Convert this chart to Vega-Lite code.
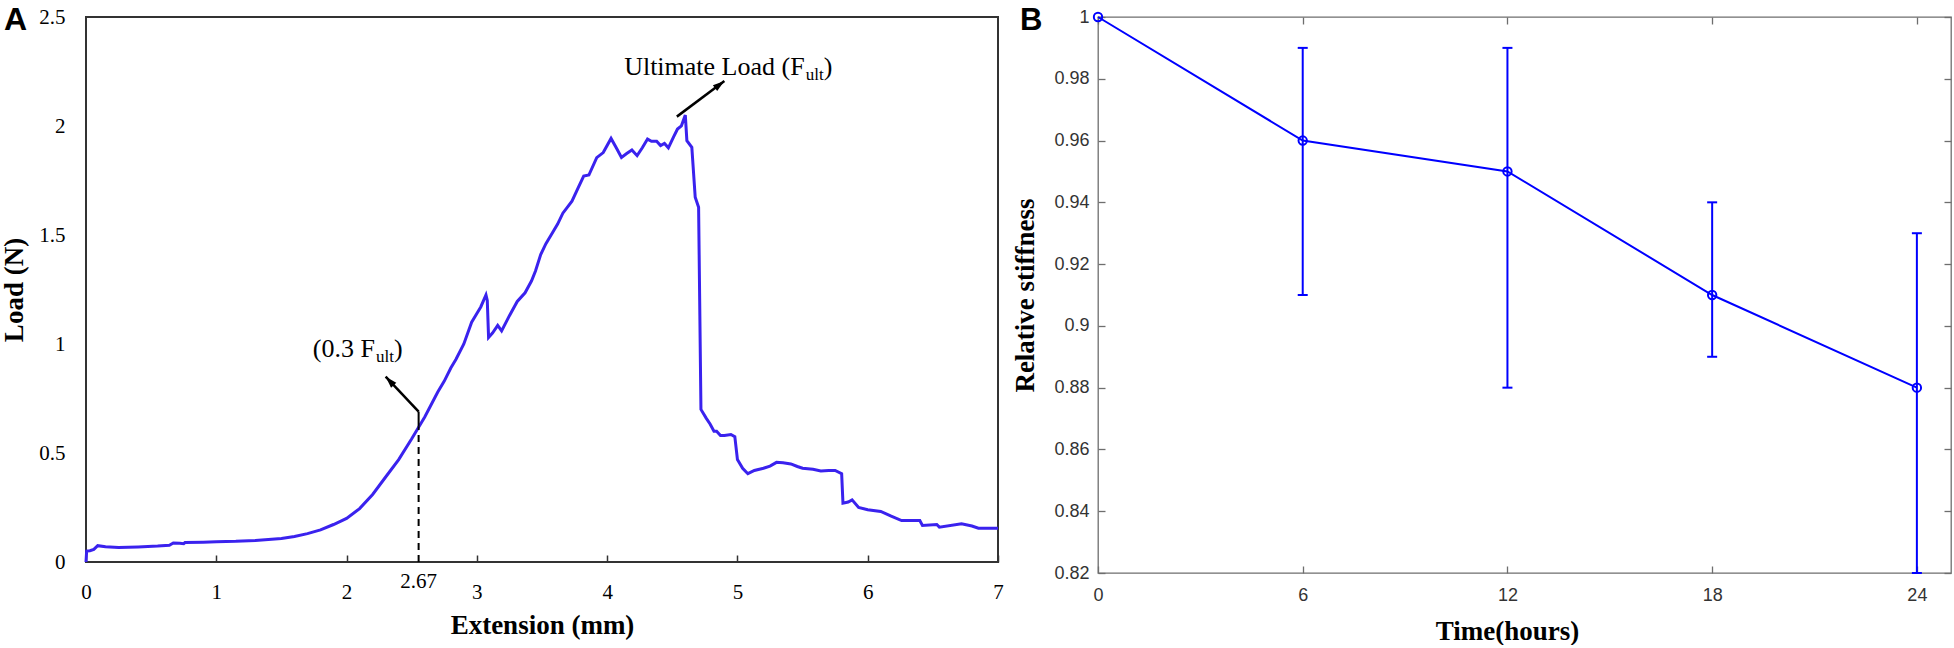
{
  "$schema": "https://vega.github.io/schema/vega-lite/v6.json",
  "background": "white",
  "padding": {"left": -1, "top": 3, "right": 0, "bottom": 0},
  "autosize": {"type": "pad"},
  "datasets": {
    "load": [
      {"ext": 0, "load": 0}, {"ext": 0.005, "load": 0.05}, {"ext": 0.03, "load": 0.052}, {"ext": 0.06, "load": 0.058},
      {"ext": 0.09, "load": 0.075}, {"ext": 0.15, "load": 0.07}, {"ext": 0.25, "load": 0.066}, {"ext": 0.4, "load": 0.069},
      {"ext": 0.55, "load": 0.073}, {"ext": 0.64, "load": 0.077}, {"ext": 0.67, "load": 0.087}, {"ext": 0.72, "load": 0.086},
      {"ext": 0.75, "load": 0.084}, {"ext": 0.76, "load": 0.089}, {"ext": 0.9, "load": 0.091}, {"ext": 1.0, "load": 0.093},
      {"ext": 1.15, "load": 0.095}, {"ext": 1.3, "load": 0.099}, {"ext": 1.4, "load": 0.103}, {"ext": 1.5, "load": 0.108},
      {"ext": 1.6, "load": 0.117}, {"ext": 1.7, "load": 0.13}, {"ext": 1.8, "load": 0.147}, {"ext": 1.9, "load": 0.172},
      {"ext": 2.0, "load": 0.2}, {"ext": 2.1, "load": 0.245}, {"ext": 2.2, "load": 0.31}, {"ext": 2.3, "load": 0.39},
      {"ext": 2.4, "load": 0.47}, {"ext": 2.5, "load": 0.565}, {"ext": 2.6, "load": 0.665}, {"ext": 2.7, "load": 0.78},
      {"ext": 2.75, "load": 0.83}, {"ext": 2.8, "load": 0.89}, {"ext": 2.84, "load": 0.93}, {"ext": 2.9, "load": 1.0},
      {"ext": 2.96, "load": 1.1}, {"ext": 3.0, "load": 1.14}, {"ext": 3.03, "load": 1.17}, {"ext": 3.07, "load": 1.225},
      {"ext": 3.08, "load": 1.2}, {"ext": 3.09, "load": 1.03}, {"ext": 3.12, "load": 1.05}, {"ext": 3.16, "load": 1.085},
      {"ext": 3.19, "load": 1.06}, {"ext": 3.25, "load": 1.13}, {"ext": 3.31, "load": 1.195}, {"ext": 3.37, "load": 1.235},
      {"ext": 3.42, "load": 1.29}, {"ext": 3.45, "load": 1.335}, {"ext": 3.49, "load": 1.41}, {"ext": 3.53, "load": 1.46},
      {"ext": 3.57, "load": 1.5}, {"ext": 3.62, "load": 1.55}, {"ext": 3.66, "load": 1.6}, {"ext": 3.73, "load": 1.655},
      {"ext": 3.78, "load": 1.72}, {"ext": 3.82, "load": 1.77}, {"ext": 3.86, "load": 1.775}, {"ext": 3.92, "load": 1.855},
      {"ext": 3.97, "load": 1.878}, {"ext": 4.03, "load": 1.943}, {"ext": 4.07, "load": 1.9}, {"ext": 4.11, "load": 1.856},
      {"ext": 4.15, "load": 1.874}, {"ext": 4.19, "load": 1.89}, {"ext": 4.23, "load": 1.864}, {"ext": 4.27, "load": 1.9},
      {"ext": 4.31, "load": 1.94}, {"ext": 4.34, "load": 1.93}, {"ext": 4.38, "load": 1.93}, {"ext": 4.41, "load": 1.91},
      {"ext": 4.44, "load": 1.92}, {"ext": 4.47, "load": 1.9}, {"ext": 4.51, "load": 1.95}, {"ext": 4.54, "load": 1.986},
      {"ext": 4.57, "load": 2.001}, {"ext": 4.6, "load": 2.05}, {"ext": 4.612, "load": 1.933}, {"ext": 4.65, "load": 1.902},
      {"ext": 4.676, "load": 1.673}, {"ext": 4.702, "load": 1.627}, {"ext": 4.72, "load": 0.7}, {"ext": 4.76, "load": 0.66},
      {"ext": 4.79, "load": 0.633}, {"ext": 4.82, "load": 0.6}, {"ext": 4.84, "load": 0.6}, {"ext": 4.87, "load": 0.58},
      {"ext": 4.9, "load": 0.58}, {"ext": 4.95, "load": 0.585}, {"ext": 4.98, "load": 0.575}, {"ext": 5.0, "load": 0.47},
      {"ext": 5.04, "load": 0.43}, {"ext": 5.08, "load": 0.405}, {"ext": 5.13, "load": 0.42}, {"ext": 5.2, "load": 0.43},
      {"ext": 5.25, "load": 0.44}, {"ext": 5.3, "load": 0.457}, {"ext": 5.35, "load": 0.455}, {"ext": 5.41, "load": 0.45},
      {"ext": 5.46, "load": 0.438}, {"ext": 5.5, "load": 0.43}, {"ext": 5.58, "load": 0.425}, {"ext": 5.64, "load": 0.418},
      {"ext": 5.7, "load": 0.42}, {"ext": 5.75, "load": 0.42}, {"ext": 5.8, "load": 0.405}, {"ext": 5.81, "load": 0.27},
      {"ext": 5.85, "load": 0.275}, {"ext": 5.88, "load": 0.285}, {"ext": 5.93, "load": 0.25}, {"ext": 6.0, "load": 0.24},
      {"ext": 6.1, "load": 0.232}, {"ext": 6.18, "load": 0.21}, {"ext": 6.26, "load": 0.19}, {"ext": 6.4, "load": 0.19},
      {"ext": 6.42, "load": 0.168}, {"ext": 6.53, "load": 0.172}, {"ext": 6.55, "load": 0.16}, {"ext": 6.72, "load": 0.175},
      {"ext": 6.8, "load": 0.165}, {"ext": 6.85, "load": 0.155}, {"ext": 7.0, "load": 0.155}
    ],
    "guide": [{"ext": 2.553, "base": 0, "curve": 0.62, "top": 0.69, "label": "2.67"}],
    "arrows": [
      {"name": "ult", "ext": 4.535, "load": 2.043, "ext2": 4.9, "load2": 2.206},
      {"name": "third", "ext": 2.553, "load": 0.69, "ext2": 2.3, "load2": 0.85}
    ],
    "notes": [
      {"ext": 5.516, "load": 2.235, "main": "Ultimate Load (F", "sub": "ult", "close": ")"},
      {"ext": 2.218, "load": 0.94, "main": "(0.3 F", "sub": "ult", "close": "\u00a0)"}
    ],
    "stiffness": [
      {"time": 0, "stiffness": 1.0, "lo": null, "hi": null},
      {"time": 6, "stiffness": 0.96, "lo": 0.91, "hi": 0.99},
      {"time": 12, "stiffness": 0.95, "lo": 0.88, "hi": 0.99},
      {"time": 18, "stiffness": 0.91, "lo": 0.89, "hi": 0.94},
      {"time": 24, "stiffness": 0.88, "lo": 0.82, "hi": 0.93}
    ]
  },
  "spacing": 100,
  "bounds": "flush",
  "hconcat": [
    {
      "width": 912,
      "height": 545,
      "view": {"stroke": "#333333", "strokeWidth": 2},
      "title": {"text": "A", "anchor": "start", "frame": "group", "dx": -82, "dy": 6, "offset": -25, "font": "Liberation Sans", "fontSize": 32, "fontWeight": "bold", "color": "#000000"},
      "layer": [
        {
          "data": {"name": "load"},
          "mark": {"type": "line", "color": "#3a22ee", "strokeWidth": 3},
          "encoding": {
            "x": {
              "field": "ext", "type": "quantitative",
              "scale": {"domain": [0, 7], "nice": false},
              "axis": {"title": "Extension (mm)", "values": [0, 1, 2, 3, 4, 5, 6, 7], "format": "~g", "labelFlush": false, "domain": false, "grid": false,
                "tickSize": -7, "tickColor": "#333333", "tickWidth": 1.5, "labelPadding": 26,
                "labelFont": "Liberation Serif", "labelFontSize": 21, "labelColor": "#000000",
                "titleFont": "Liberation Serif", "titleFontSize": 27, "titleFontWeight": "bold", "titleColor": "#000000", "titlePadding": 10}
            },
            "y": {
              "field": "load", "type": "quantitative",
              "scale": {"domain": [0, 2.5], "nice": false},
              "axis": {"title": "Load (N)", "values": [0, 0.5, 1, 1.5, 2, 2.5], "format": "~g", "ticks": false, "domain": false, "grid": false,
                "labelPadding": 21, "labelFont": "Liberation Serif", "labelFontSize": 21, "labelColor": "#000000",
                "titleFont": "Liberation Serif", "titleFontSize": 27, "titleFontWeight": "bold", "titleColor": "#000000", "titlePadding": 10}
            }
          }
        },
        {
          "data": {"name": "guide"},
          "mark": {"type": "rule", "color": "#000000", "strokeWidth": 2, "strokeDash": [7, 5]},
          "encoding": {
            "x": {"field": "ext", "type": "quantitative", "axis": null},
            "y": {"field": "base", "type": "quantitative", "axis": null},
            "y2": {"field": "curve"}
          }
        },
        {
          "data": {"name": "guide"},
          "mark": {"type": "rule", "color": "#000000", "strokeWidth": 2},
          "encoding": {
            "x": {"field": "ext", "type": "quantitative", "axis": null},
            "y": {"field": "curve", "type": "quantitative", "axis": null},
            "y2": {"field": "top"}
          }
        },
        {
          "data": {"name": "guide"},
          "mark": {"type": "text", "font": "Liberation Serif", "fontSize": 21, "color": "#000000", "baseline": "middle", "dy": 20},
          "encoding": {
            "x": {"field": "ext", "type": "quantitative", "axis": null},
            "y": {"field": "base", "type": "quantitative", "axis": null},
            "text": {"field": "label"}
          }
        },
        {
          "data": {"name": "arrows"},
          "mark": {"type": "rule", "color": "#000000", "strokeWidth": 2.5},
          "encoding": {
            "x": {"field": "ext", "type": "quantitative", "axis": null},
            "y": {"field": "load", "type": "quantitative", "axis": null},
            "x2": {"field": "ext2"},
            "y2": {"field": "load2"}
          }
        },
        {
          "data": {"name": "arrows"},
          "transform": [{"filter": "datum.name === 'ult'"}],
          "mark": {"type": "point", "shape": "M0,0L-0.8,2.6L0.8,2.6Z", "filled": true, "color": "#000000", "opacity": 1, "size": 81, "angle": 53.3},
          "encoding": {
            "x": {"field": "ext2", "type": "quantitative", "axis": null},
            "y": {"field": "load2", "type": "quantitative", "axis": null}
          }
        },
        {
          "data": {"name": "arrows"},
          "transform": [{"filter": "datum.name === 'third'"}],
          "mark": {"type": "point", "shape": "M0,0L-0.8,2.6L0.8,2.6Z", "filled": true, "color": "#000000", "opacity": 1, "size": 81, "angle": 316.6},
          "encoding": {
            "x": {"field": "ext2", "type": "quantitative", "axis": null},
            "y": {"field": "load2", "type": "quantitative", "axis": null}
          }
        },
        {
          "data": {"name": "notes"},
          "mark": {"type": "text", "font": "Liberation Serif", "fontSize": 26, "color": "#000000", "align": "right", "baseline": "alphabetic"},
          "encoding": {
            "x": {"field": "ext", "type": "quantitative", "axis": null},
            "y": {"field": "load", "type": "quantitative", "axis": null},
            "text": {"field": "main"}
          }
        },
        {
          "data": {"name": "notes"},
          "mark": {"type": "text", "font": "Liberation Serif", "fontSize": 17, "color": "#000000", "align": "left", "baseline": "alphabetic", "dx": 1, "dy": 5},
          "encoding": {
            "x": {"field": "ext", "type": "quantitative", "axis": null},
            "y": {"field": "load", "type": "quantitative", "axis": null},
            "text": {"field": "sub"}
          }
        },
        {
          "data": {"name": "notes"},
          "mark": {"type": "text", "font": "Liberation Serif", "fontSize": 26, "color": "#000000", "align": "left", "baseline": "alphabetic", "dx": 19},
          "encoding": {
            "x": {"field": "ext", "type": "quantitative", "axis": null},
            "y": {"field": "load", "type": "quantitative", "axis": null},
            "text": {"field": "close"}
          }
        }
      ],
      "resolve": {"axis": {"x": "independent", "y": "independent"}}
    },
    {
      "width": 853,
      "height": 556,
      "view": {"stroke": "#6e6e6e", "strokeWidth": 1.3},
      "title": {"text": "B", "anchor": "start", "frame": "group", "dx": -78, "dy": 6, "offset": -23, "font": "Liberation Sans", "fontSize": 31, "fontWeight": "bold", "color": "#000000"},
      "data": {"name": "stiffness"},
      "layer": [
        {
          "mark": {"type": "rule", "color": "#0000ff", "strokeWidth": 2},
          "encoding": {
            "x": {
              "field": "time", "type": "quantitative",
              "scale": {"domain": [0, 25], "nice": false},
              "axis": {"orient": "top", "title": null, "values": [0, 6, 12, 18, 24], "labels": false, "domain": false, "grid": false,
                "tickSize": -7, "tickColor": "#6e6e6e", "tickWidth": 1.3}
            },
            "y": {
              "field": "lo", "type": "quantitative",
              "scale": {"domain": [0.82, 1], "nice": false},
              "axis": {"orient": "right", "title": null, "values": [0.82, 0.84, 0.86, 0.88, 0.9, 0.92, 0.94, 0.96, 0.98, 1], "labels": false, "domain": false, "grid": false,
                "tickSize": -7, "tickColor": "#6e6e6e", "tickWidth": 1.3}
            },
            "y2": {"field": "hi"}
          }
        },
        {
          "mark": {"type": "tick", "orient": "horizontal", "color": "#0000ff", "size": 10, "thickness": 2, "opacity": 1},
          "encoding": {
            "x": {"field": "time", "type": "quantitative", "axis": null},
            "y": {"field": "lo", "type": "quantitative", "axis": null}
          }
        },
        {
          "mark": {"type": "tick", "orient": "horizontal", "color": "#0000ff", "size": 10, "thickness": 2, "opacity": 1},
          "encoding": {
            "x": {"field": "time", "type": "quantitative", "axis": null},
            "y": {"field": "hi", "type": "quantitative", "axis": null}
          }
        },
        {
          "mark": {"type": "line", "color": "#0000ff", "strokeWidth": 2},
          "encoding": {
            "x": {
              "field": "time", "type": "quantitative",
              "axis": {"orient": "bottom", "title": "Time(hours)", "values": [0, 6, 12, 18, 24], "labelFlush": false, "domain": false, "grid": false,
                "tickSize": -7, "tickColor": "#6e6e6e", "tickWidth": 1.3, "labelPadding": 20,
                "labelFont": "Liberation Sans", "labelFontSize": 18, "labelColor": "#333333",
                "titleFont": "Liberation Serif", "titleFontSize": 27, "titleFontWeight": "bold", "titleColor": "#000000", "titlePadding": 14, "titleX": 409}
            },
            "y": {
              "field": "stiffness", "type": "quantitative",
              "axis": {"orient": "left", "title": "Relative stiffness", "values": [0.82, 0.84, 0.86, 0.88, 0.9, 0.92, 0.94, 0.96, 0.98, 1], "format": "~g", "domain": false, "grid": false,
                "tickSize": -7, "tickColor": "#6e6e6e", "tickWidth": 1.3, "labelPadding": 16,
                "labelFont": "Liberation Sans", "labelFontSize": 18, "labelColor": "#333333",
                "titleFont": "Liberation Serif", "titleFontSize": 27, "titleFontWeight": "bold", "titleColor": "#000000", "titlePadding": 14}
            }
          }
        },
        {
          "mark": {"type": "point", "shape": "circle", "filled": false, "color": "#0000ff", "size": 70, "strokeWidth": 2, "opacity": 1},
          "encoding": {
            "x": {"field": "time", "type": "quantitative", "axis": null},
            "y": {"field": "stiffness", "type": "quantitative", "axis": null}
          }
        }
      ],
      "resolve": {"axis": {"x": "independent", "y": "independent"}}
    }
  ]
}
